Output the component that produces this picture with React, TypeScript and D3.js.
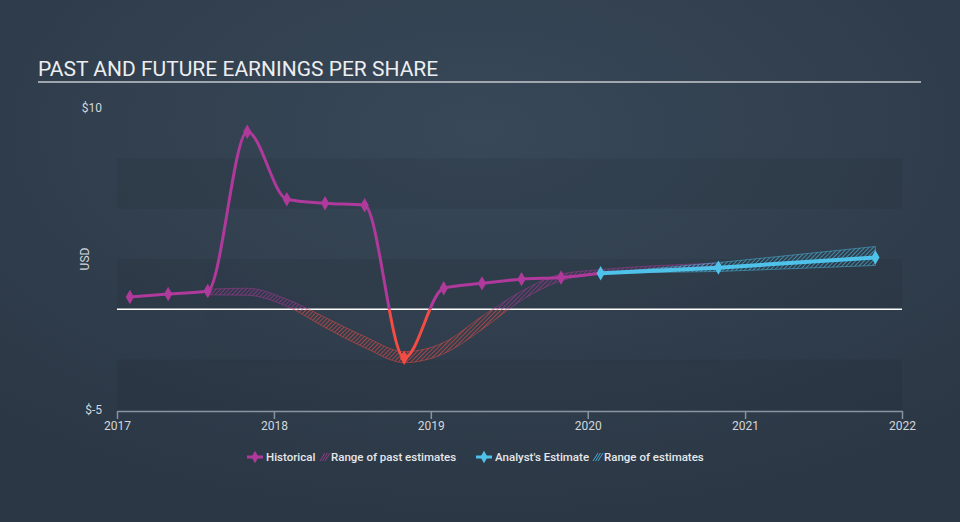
import React, { useEffect, useRef } from 'react'
import * as d3 from 'd3'

// historical EPS (quarter-end dates)
const histDates = ['2017-01-31', '2017-04-30', '2017-07-31', '2017-10-31', '2018-01-31', '2018-04-30', '2018-07-31', '2018-10-31', '2019-01-31', '2019-04-30', '2019-07-31', '2019-10-31', '2020-01-31']
const histValues = [0.61, 0.76, 0.91, 8.82, 5.47, 5.27, 5.17, -2.41, 1.05, 1.29, 1.5, 1.58, 1.79]

// analyst estimates
const estDates = ['2020-01-31', '2020-10-31', '2021-10-31']
const estValues = [1.79, 2.07, 2.58]
const estLow = [1.79, 1.88, 2.18]
const estHigh = [1.79, 2.32, 3.12]

// range of past estimates
const pastDates = ['2017-07-31', '2017-10-31', '2018-01-31', '2018-04-30', '2018-07-31', '2018-10-31', '2019-01-31', '2019-04-30', '2019-07-31', '2019-10-31', '2020-01-31', '2020-04-30', '2020-07-31', '2020-10-31']
const pastLow = [0.72, 0.7, 0.15, -0.9, -1.9, -2.65, -2.2, -1.0, 0.45, 1.42, 1.78, 1.95, 2.05, 2.15]
const pastHigh = [1.0, 1.05, 0.5, -0.4, -1.35, -2.1, -1.65, -0.35, 0.9, 1.75, 1.97, 2.12, 2.22, 2.3]

const yearTicks = ['2017', '2018', '2019', '2020', '2021', '2022']
const yLabels = [10, -5]

const MAGENTA = '#b0399c'
const RED = '#f24c45'
const CYAN = '#4fc2ea'

export default function App() {
  const svgRef = useRef<SVGSVGElement | null>(null)

  useEffect(() => {
    const width = 960, height = 522
    const m = { top: 108, right: 58, bottom: 112, left: 117 }
    const svg = d3.select(svgRef.current).attr('width', width).attr('height', height)
    svg.selectAll('*').remove()
    const font = 'Roboto, sans-serif'
    const parse = d3.timeParse('%Y-%m-%d')

    const x = d3.scaleTime().domain([new Date(2017, 0, 1), new Date(2022, 0, 1)]).range([m.left, width - m.right])
    const y = d3.scaleLinear().domain([-5, 10]).range([height - m.bottom, m.top])
    const y0 = y(0)

    const defs = svg.append('defs')
    const bg = defs.append('radialGradient').attr('id', 'bg').attr('cx', '50%').attr('cy', '25%').attr('r', '75%')
    bg.append('stop').attr('offset', '0%').attr('stop-color', '#384858')
    bg.append('stop').attr('offset', '100%').attr('stop-color', '#2b3745')

    const hatch = (id: string, color: string) => {
      const p = defs.append('pattern').attr('id', id).attr('patternUnits', 'userSpaceOnUse')
        .attr('width', 3).attr('height', 3).attr('patternTransform', 'rotate(45)')
      p.append('line').attr('x1', 0).attr('y1', 0).attr('x2', 0).attr('y2', 3).attr('stroke', color).attr('stroke-width', 1.4)
    }
    hatch('hMag', MAGENTA)
    hatch('hRed', RED)
    hatch('hCyan', CYAN)

    defs.append('clipPath').attr('id', 'above').append('rect').attr('x', 0).attr('y', 0).attr('width', width).attr('height', y0)
    defs.append('clipPath').attr('id', 'below').append('rect').attr('x', 0).attr('y', y0).attr('width', width).attr('height', height - y0)

    svg.append('rect').attr('width', width).attr('height', height).attr('fill', 'url(#bg)')

    // Title
    svg.append('text').attr('x', 38).attr('y', 76).attr('fill', '#eceef0').attr('font-family', font)
      .attr('font-size', 21).text('PAST AND FUTURE EARNINGS PER SHARE')
    svg.append('line').attr('x1', 38).attr('x2', 921).attr('y1', 82).attr('y2', 82).attr('stroke', '#c4c9ce').attr('stroke-width', 1.5)

    // alternating bands
    const bands = [[5, 7.5], [0, 2.5], [-5, -2.5]]
    svg.append('g').selectAll('rect').data(bands).join('rect')
      .attr('x', m.left).attr('width', width - m.right - m.left)
      .attr('y', d => y(d[1])).attr('height', d => y(d[0]) - y(d[1]))
      .attr('fill', '#000').attr('opacity', 0.06)

    // Y labels
    svg.append('g').selectAll('text').data(yLabels).join('text')
      .attr('x', 102).attr('y', d => y(d)).attr('dy', '0.35em').attr('text-anchor', 'end')
      .attr('fill', '#d3d7db').attr('font-family', font).attr('font-size', 12)
      .text(d => `$${d}`)
    svg.append('text').attr('transform', `translate(89,${(m.top + height - m.bottom) / 2}) rotate(-90)`)
      .attr('text-anchor', 'middle').attr('fill', '#d3d7db').attr('font-family', font).attr('font-size', 12).text('USD')

    // X axis
    const xAxis = svg.append('g').attr('transform', `translate(0,${height - m.bottom + 1})`)
      .call(d3.axisBottom(x).tickValues(yearTicks.map(t => new Date(+t, 0, 1))).tickFormat(d3.timeFormat('%Y') as any).tickSize(8).tickSizeOuter(0).tickPadding(2))
    xAxis.selectAll('path,line').attr('stroke', '#8793a0').attr('stroke-width', 1.5)
    xAxis.selectAll('text').attr('fill', '#d3d7db').attr('font-family', font).attr('font-size', 12)

    // zero line
    svg.append('line').attr('x1', m.left).attr('x2', width - m.right).attr('y1', y0).attr('y2', y0)
      .attr('stroke', '#ffffff').attr('stroke-width', 1.5)

    const hist = histDates.map((d, i) => ({ date: parse(d) as Date, v: histValues[i] }))
    const est = estDates.map((d, i) => ({ date: parse(d) as Date, v: estValues[i], lo: estLow[i], hi: estHigh[i] }))
    const past = pastDates.map((d, i) => ({ date: parse(d) as Date, lo: pastLow[i], hi: pastHigh[i] }))

    // past estimates range
    const pastArea = d3.area<any>().x(d => x(d.date)).y0(d => y(d.lo)).y1(d => y(d.hi)).curve(d3.curveMonotoneX)
    const clips: [string, string, string][] = [['above', 'url(#hMag)', MAGENTA], ['below', 'url(#hRed)', RED]]
    clips.forEach(([clip, fill, col]) => {
      svg.append('path').datum(past).attr('clip-path', `url(#${clip})`).attr('d', pastArea)
        .attr('fill', fill).attr('stroke', col).attr('stroke-width', 0.8).attr('stroke-opacity', 0.7).attr('opacity', 0.85)
    })

    // estimate range
    const estArea = d3.area<any>().x(d => x(d.date)).y0(d => y(d.lo)).y1(d => y(d.hi))
    svg.append('path').datum(est).attr('d', estArea).attr('fill', 'url(#hCyan)')
      .attr('stroke', CYAN).attr('stroke-width', 0.8).attr('stroke-opacity', 0.7).attr('opacity', 0.85)

    // historical line
    const line = d3.line<any>().x(d => x(d.date)).y(d => y(d.v)).curve(d3.curveMonotoneX)
    clips.forEach(([clip, , col]) => {
      svg.append('path').datum(hist).attr('clip-path', `url(#${clip})`).attr('d', line)
        .attr('fill', 'none').attr('stroke', col).attr('stroke-width', 3)
    })
    const diamond = d3.symbol().type(d3.symbolDiamond).size(60)
    svg.append('g').selectAll('path').data(hist.slice(0, -1)).join('path')
      .attr('transform', d => `translate(${x(d.date)},${y(d.v)})`).attr('d', diamond)
      .attr('fill', d => d.v < 0 ? RED : MAGENTA)

    // analyst estimate line
    svg.append('path').datum(est).attr('d', d3.line<any>().x(d => x(d.date)).y(d => y(d.v)))
      .attr('fill', 'none').attr('stroke', CYAN).attr('stroke-width', 4)
    svg.append('g').selectAll('path').data(est).join('path')
      .attr('transform', d => `translate(${x(d.date)},${y(d.v)})`).attr('d', diamond).attr('fill', CYAN)

    // Legend
    const lg = svg.append('g').attr('font-family', font).attr('font-size', 11.5).attr('font-weight', 500).attr('fill', '#e6e8ea')
    const small = d3.symbol().type(d3.symbolDiamond).size(45)
    const lineIcon = (cx: number, col: string) => {
      lg.append('line').attr('x1', cx - 8).attr('x2', cx + 8).attr('y1', 457).attr('y2', 457).attr('stroke', col).attr('stroke-width', 3)
      lg.append('path').attr('transform', `translate(${cx},457)`).attr('d', small).attr('fill', col)
    }
    const hatchIcon = (hx: number, col: string) => {
      for (let i = 0; i < 3; i++) {
        lg.append('line').attr('x1', hx + i * 2.5).attr('y1', 461).attr('x2', hx + i * 2.5 + 5).attr('y2', 453)
          .attr('stroke', col).attr('stroke-width', 1).attr('opacity', 0.8)
      }
    }
    lineIcon(255, MAGENTA)
    lg.append('text').attr('x', 266).attr('y', 461).text('Historical')
    hatchIcon(320, MAGENTA)
    lg.append('text').attr('x', 331).attr('y', 461).text('Range of past estimates')
    lineIcon(484, CYAN)
    lg.append('text').attr('x', 495).attr('y', 461).text("Analyst's Estimate")
    hatchIcon(593, CYAN)
    lg.append('text').attr('x', 604).attr('y', 461).text('Range of estimates')
  }, [])

  return (
    <div style={{ position: 'absolute', left: 0, top: 0 }}>
      <svg ref={svgRef} style={{ display: 'block' }}></svg>
    </div>
  )
}
